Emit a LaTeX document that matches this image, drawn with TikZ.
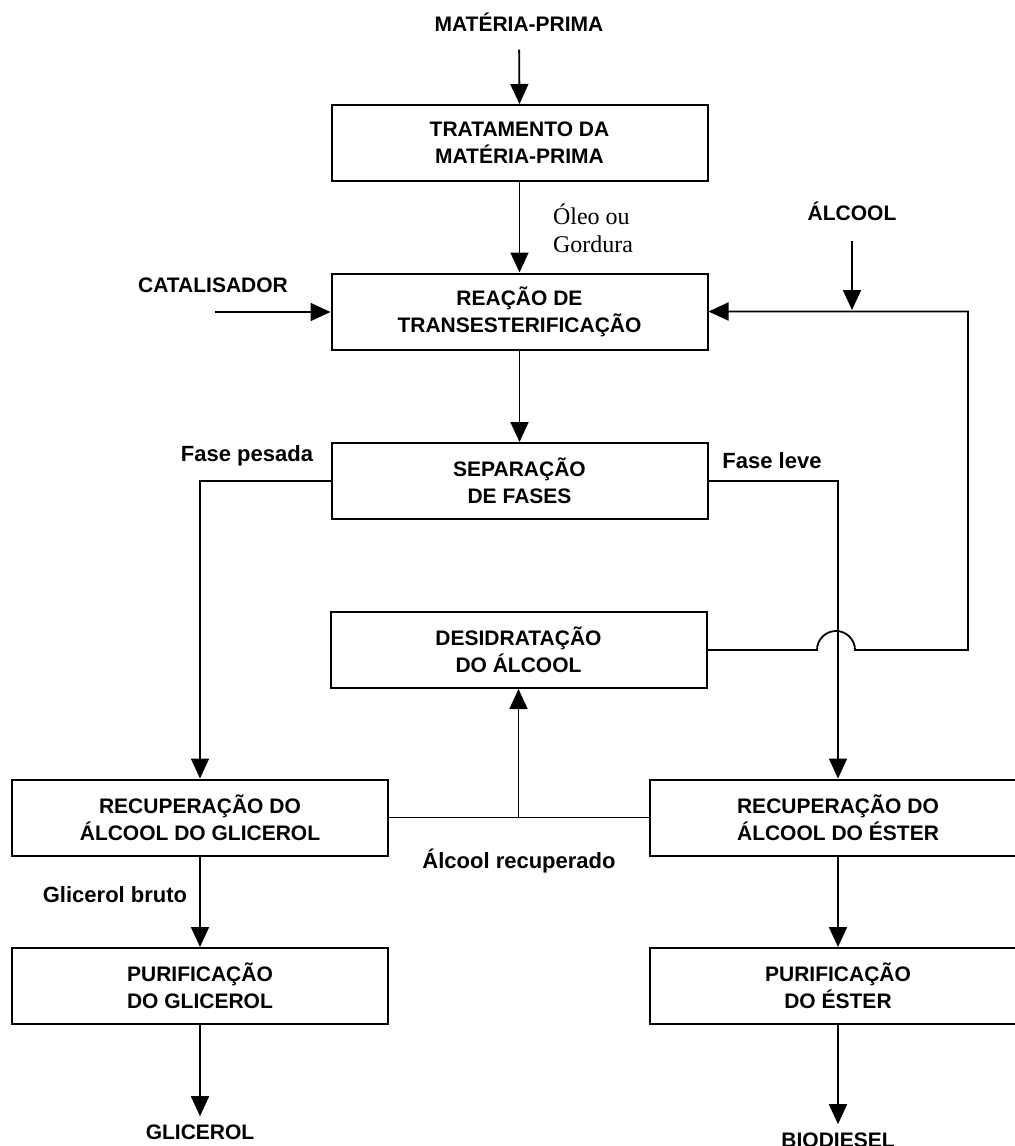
\documentclass[tikz,border=0pt]{standalone}
\usepackage{fontspec}
\setmainfont{Liberation Sans}
\newfontfamily\serifface{Liberation Serif}
\usetikzlibrary{arrows.meta}
\begin{document}
\begin{tikzpicture}[x=0.5pt,y=-0.5pt,
  every node/.style={font=\fontsize{10.5pt}{13.5pt}\selectfont\bfseries, align=center},
  procbox/.style={draw, line width=1pt, inner sep=0pt, minimum width=188pt, minimum height=38pt},
  lbl/.style={inner sep=0pt},
  endlbl/.style={inner sep=4pt},
  conn/.style={line width=0.9pt},
  arr/.style={conn, -{Triangle[length=10pt,width=9pt]}}]
\useasboundingbox (0,0) rectangle (1015,1146);
\clip (0,0) rectangle (1015,1146);
% process boxes
\node[procbox] (trat) at (519.5,143) {TRATAMENTO DA\\MATÉRIA-PRIMA};
\node[procbox] (reac) at (519.5,311.5) {REAÇÃO DE\\TRANSESTERIFICAÇÃO};
\node[procbox] (sep) at (519.5,481) {SEPARAÇÃO\\DE FASES};
\node[procbox] (desid) at (518.5,650) {DESIDRATAÇÃO\\DO ÁLCOOL};
\node[procbox] (recg) at (200,817.5) {RECUPERAÇÃO DO\\ÁLCOOL DO GLICEROL};
\node[procbox] (rece) at (838,817.5) {RECUPERAÇÃO DO\\ÁLCOOL DO ÉSTER};
\node[procbox] (purg) at (200,986) {PURIFICAÇÃO\\DO GLICEROL};
\node[procbox] (pure) at (838,986) {PURIFICAÇÃO\\DO ÉSTER};
% end labels
\node[lbl] (mp) at (519,22) {MATÉRIA-PRIMA};
\node[lbl] (cat) at (213,285) {CATALISADOR};
\node[lbl] (alc) at (852,211) {ÁLCOOL};
\node[endlbl] (glic) at (200,1132) {GLICEROL};
\node[endlbl] (bio) at (838,1140) {BIODIESEL};
% stream labels
\node[lbl, font=\fontsize{12pt}{14pt}\selectfont\serifface, align=left] (oleo) at (593,228) {Óleo ou\\Gordura};
\node[lbl, font=\fontsize{11pt}{13pt}\selectfont\bfseries] (fp) at (247,456) {Fase pesada};
\node[lbl, font=\fontsize{11pt}{13pt}\selectfont\bfseries] (fl) at (772,461) {Fase leve};
\node[lbl, font=\fontsize{11pt}{13pt}\selectfont\bfseries] (ar) at (519,861) {Álcool recuperado};
\node[lbl, font=\fontsize{11pt}{13pt}\selectfont\bfseries] (gb) at (115,895) {Glicerol bruto};
% junctions
\coordinate (catin) at (215,312);
\coordinate (alcj) at (852,310);
\coordinate (rj) at (518.5,817.5);
% connectors
\draw[arr, shorten <=9pt] (mp.south) -- (trat.north);
\draw[arr] (trat.south) -- (reac.north);
\draw[arr] (catin) -- (catin -| reac.west);
\draw[arr, shorten <=10pt] (alc.south) -- (alcj);
\draw[arr] (desid.east) -- (817,650) arc[start angle=180, end angle=0, radius=9.5pt] -- (968,650) |- (reac.east);
\draw[arr] (reac.south) -- (sep.north);
\draw[arr] (sep.west) -| (recg.north);
\draw[arr] (sep.east) -| (rece.north);
\draw[conn] (recg.east) -- (rece.west);
\draw[arr] (rj) -- (desid.south);
\draw[arr] (recg.south) -- (purg.north);
\draw[arr] (rece.south) -- (pure.north);
\draw[arr] (purg.south) -- (glic.north);
\draw[arr] (pure.south) -- (bio.north);
\end{tikzpicture}
\end{document}
